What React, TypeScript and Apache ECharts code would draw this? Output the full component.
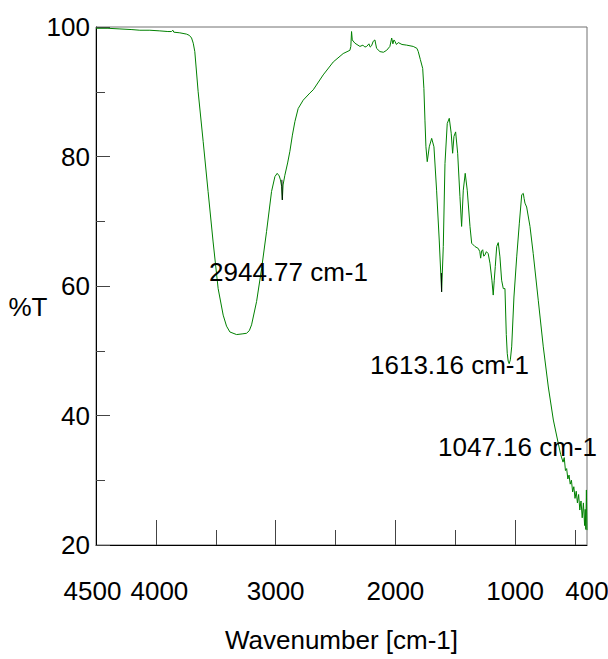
import { useEffect, useRef } from "react";
import * as echarts from "echarts";

const wavenumbers = [
  4500, 4400, 4300, 4200, 4134, 4050, 3967, 3900, 3870, 3858, 3850, 3800, 3744, 3720, 3702, 3688, 3675, 3647,
  3605, 3564, 3522, 3480, 3438, 3410, 3382, 3326, 3280, 3243, 3220, 3201, 3159, 3117, 3076, 3034, 3006, 2987,
  2970, 2960, 2950, 2944, 2938, 2923, 2900, 2881, 2860, 2839, 2812, 2770, 2714, 2686, 2603, 2519, 2436, 2380,
  2372, 2366, 2360, 2338, 2296, 2271, 2255, 2240, 2221, 2210, 2199, 2185, 2171, 2157, 2129, 2100, 2073, 2046,
  2031, 2021, 2012, 2004, 1991, 1976, 1945, 1906, 1851, 1820, 1809, 1792, 1772, 1762, 1753, 1745, 1734, 1717,
  1697, 1678, 1656, 1634, 1614, 1600, 1586, 1567, 1550, 1534, 1522, 1511, 1497, 1480, 1461, 1447, 1433, 1417,
  1400, 1377, 1363, 1336, 1308, 1295, 1288, 1280, 1271, 1262, 1252, 1240, 1225, 1210, 1194, 1183, 1175, 1166,
  1154, 1141, 1127, 1113, 1099, 1085, 1074, 1066, 1058, 1050, 1040, 1029, 1010, 987, 965, 945, 932, 925, 918,
  904, 876, 849, 807, 765, 723, 681, 640, 620, 600, 590, 580, 570, 560, 550, 540, 530, 520, 510, 500, 490, 480,
  470, 460, 450, 440, 430, 420, 415, 410, 405, 400,
];

const transmittance = [
  99.8, 99.8, 99.7, 99.6, 99.5, 99.5, 99.4, 99.3, 99.3, 99.5, 99.2, 99.1, 98.9, 98.7, 98.3, 97.5, 96.2, 90.0,
  82.3, 74.6, 66.8, 59.6, 55.5, 53.8, 52.9, 52.5, 52.6, 52.7, 53.1, 54.0, 57.6, 62.7, 68.4, 74.6, 76.9, 77.4,
  77.0, 76.4, 75.4, 73.3, 75.6, 77.1, 79.0, 80.8, 83.3, 85.4, 87.4, 88.7, 89.8, 90.3, 92.6, 94.6, 95.9, 96.4,
  97.0, 99.3, 98.0, 97.5, 97.0, 97.2, 96.9, 97.0, 97.4, 96.9, 97.1, 97.8, 98.0, 96.7, 96.2, 96.1, 96.4, 97.0,
  98.3, 97.4, 98.0, 97.8, 97.3, 97.6, 97.3, 97.2, 97.0, 96.7, 96.2, 95.0, 93.6, 90.5, 85.5, 81.5, 79.2, 81.5,
  82.8, 81.5, 74.8, 67.1, 59.1, 66.1, 78.9, 85.1, 85.9, 83.6, 80.5, 83.1, 83.8, 80.5, 73.8, 69.2, 74.8, 77.4,
  74.8, 69.2, 66.6, 66.1, 65.8, 65.3, 64.3, 65.4, 65.6, 64.6, 64.8, 65.3, 65.0, 63.5, 60.9, 58.6, 60.8, 63.0,
  66.1, 66.7, 64.5, 60.9, 59.6, 59.6, 52.5, 49.6, 48.4, 48.0, 48.6, 50.6, 58.3, 64.5, 69.7, 74.1, 74.3, 73.5, 72.8,
  72.2, 69.2, 65.0, 57.8, 50.6, 44.4, 39.3, 35.7, 34.0, 32.8, 33.5, 31.5, 31.8, 30.2, 30.8, 29.4, 30.0, 28.2,
  29.0, 27.2, 28.3, 26.5, 27.8, 25.4, 26.8, 24.2, 26.5, 23.0, 25.5, 22.4, 28.5, 22.3,
];

const peakMarkSegments = [
  [[2948, 76.4], [2944, 73.3]],
  [[1616, 62.0], [1614, 59.1]],
];

const annotations = [
  { text: "2944.77 cm-1", left: 209, cy: 272 },
  { text: "1613.16 cm-1", left: 370, cy: 365 },
  { text: "1047.16 cm-1", left: 438, cy: 447 },
];

const xLabelValues = [4500, 4000, 3000, 2000, 1000, 400];
const xMajorTicks = [4000, 3000, 2000, 1000];
const xMinorTicks = [3500, 2500, 1500, 500];

const FONT = "'Liberation Sans', Arial, sans-serif";
const FS = 26;

export default function App() {
  const ref = useRef<HTMLDivElement>(null);
  useEffect(() => {
    document.body.style.margin = "0";
    if (!ref.current) return;
    const chart = echarts.init(ref.current, undefined, { renderer: "svg" });
    const lineData = wavenumbers.map((w, i) => [w, transmittance[i]]);
    const markData: any[] = [];
    peakMarkSegments.forEach((seg, i) => {
      if (i > 0) markData.push([null, null]);
      seg.forEach((p) => markData.push(p));
    });
    const baseX = {
      type: "value" as const,
      min: 400,
      max: 4500,
      inverse: true,
      position: "bottom" as const,
      splitLine: { show: false },
    };
    const labelStyle = { fontFamily: FONT, fontSize: FS, color: "#000" };
    chart.setOption({
      animation: false,
      backgroundColor: "#fff",
      grid: {
        left: 96,
        right: 21,
        top: 27,
        bottom: 114,
        containLabel: false,
        outerBoundsMode: "none",
        show: true,
        borderColor: "#707070",
        borderWidth: 1,
        backgroundColor: "transparent",
      },
      xAxis: [
        {
          ...baseX,
          name: "Wavenumber [cm-1]",
          nameLocation: "middle",
          nameGap: 82,
          nameTextStyle: labelStyle,
          axisLine: { show: true, lineStyle: { color: "#000", width: 1 } },
          axisTick: {
            show: true,
            inside: true,
            length: 25,
            customValues: xMajorTicks,
            lineStyle: { color: "#444", width: 1 },
          },
          axisLabel: {
            show: true,
            customValues: xLabelValues,
            showMinLabel: true,
            showMaxLabel: true,
            hideOverlap: false,
            formatter: (v: number) =>
              v === 4500 ? `{l|${v}}` : v === 4000 ? `{r|${v}}` : String(v),
            rich: {
              l: { ...labelStyle, padding: [0, 7, 0, 0] },
              r: { ...labelStyle, padding: [0, 0, 0, 7] },
            },
            margin: 33,
            ...labelStyle,
          },
        },
        {
          ...baseX,
          axisLine: { show: false },
          axisTick: {
            show: true,
            inside: true,
            length: 15,
            customValues: xMinorTicks,
            lineStyle: { color: "#444", width: 1 },
          },
          axisLabel: { show: false },
        },
      ],
      yAxis: {
        type: "value",
        min: 20,
        max: 100,
        interval: 20,
        splitLine: { show: false },
        axisLine: { show: true, lineStyle: { color: "#000", width: 1 } },
        axisTick: { show: true, inside: true, length: 14, lineStyle: { color: "#444", width: 1 } },
        minorTick: { show: true, splitNumber: 2, length: 9, lineStyle: { color: "#444", width: 1 } },
        axisLabel: {
          margin: 6,
          ...labelStyle,
          padding: [7, 0, 0, 0],
        },
      },
      series: [
        {
          type: "line",
          name: "%T",
          data: lineData,
          showSymbol: false,
          symbol: "none",
          lineStyle: { color: "#008000", width: 1 },
          itemStyle: { color: "#008000" },
          z: 2,
        },
        {
          type: "line",
          name: "peaks",
          data: markData,
          showSymbol: false,
          symbol: "none",
          connectNulls: false,
          lineStyle: { color: "#000", width: 1 },
          z: 3,
        },
      ],
      graphic: [
        {
          type: "text",
          x: 28,
          y: 307,
          z: 10,
          style: {
            text: "%T",
            fontFamily: FONT,
            fontSize: FS,
            fill: "#000",
            align: "center",
            verticalAlign: "middle",
          },
        },
        ...annotations.map((a) => ({
          type: "text",
          x: a.left,
          y: a.cy,
          z: 10,
          style: {
            text: a.text,
            fontFamily: FONT,
            fontSize: FS,
            fill: "#000",
            align: "left",
            verticalAlign: "middle",
          },
        })),
      ],
    });
    return () => chart.dispose();
  }, []);
  return <div ref={ref} style={{ width: 608, height: 659 }} />;
}
